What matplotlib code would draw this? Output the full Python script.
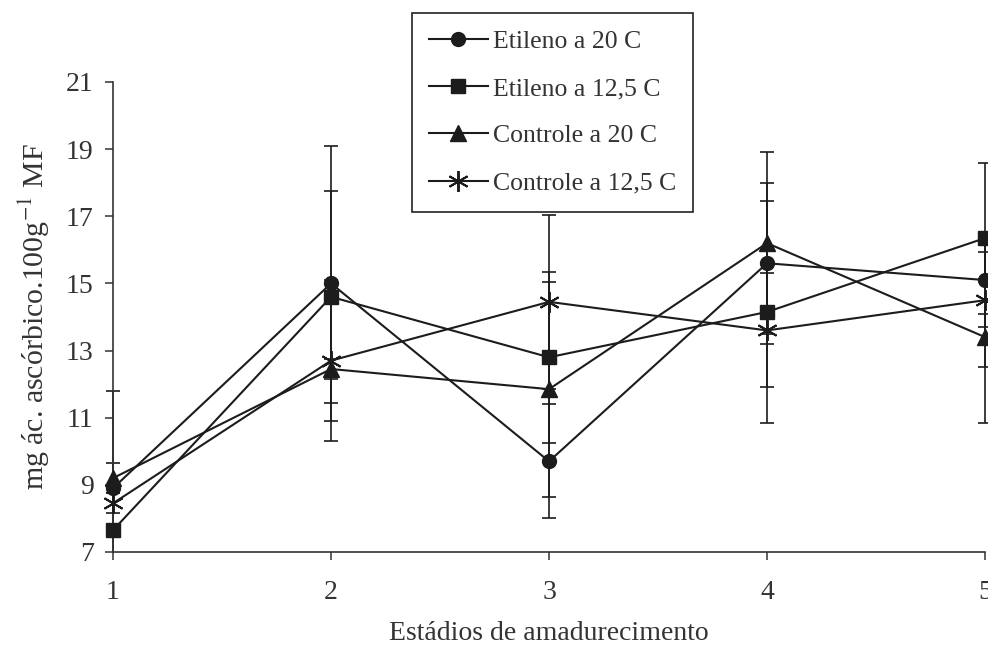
import matplotlib
matplotlib.use("Agg")
import matplotlib.pyplot as plt
from matplotlib.lines import Line2D
from matplotlib.patches import Rectangle

plt.rcParams['font.family'] = ['Liberation Serif', 'DejaVu Serif']
plt.rcParams['mathtext.fontset'] = 'stix'

stages = [1, 2, 3, 4, 5]
series_names = ["Etileno a 20 C", "Etileno a 12,5 C", "Controle a 20 C", "Controle a 12,5 C"]
etileno_20 = [8.9, 15.0, 9.7, 15.6, 15.1]
etileno_125 = [7.65, 14.6, 12.8, 14.15, 16.35]
controle_20 = [9.2, 12.45, 11.85, 16.2, 13.4]
controle_125 = [8.45, 12.7, 14.45, 13.6, 14.5]
err_etileno_20 = [2.9, 4.1, 1.7, 2.4, 1.4]
err_etileno_125 = [0.0, 3.15, 2.55, 3.3, 2.25]
err_controle_20 = [0.45, 0.3, 3.2, 2.7, 2.55]
err_controle_125 = [0.3, 2.4, 2.6, 1.7, 2.0]
yticks = [7, 9, 11, 13, 15, 17, 19, 21]

INK = '#1c1c1c'

fig = plt.figure(figsize=(9.88, 6.45), dpi=100)
ax = fig.add_axes([0.1144, 0.1442, 0.8826, 0.7287])

values = [etileno_20, etileno_125, controle_20, controle_125]
errors = [err_etileno_20, err_etileno_125, err_controle_20, err_controle_125]
markers = ['o', 's', '^', (6, 2, 0)]
msizes = [10, 10, 11, 15]

# clip error bars vertically at the x axis, but allow drawing on left/right edges
clip_rect = Rectangle((-0.05, 0.0), 1.1, 1.5, transform=ax.transAxes,
                      facecolor='none', edgecolor='none')
ax.add_patch(clip_rect)

for name, vals, errs, mk, ms in zip(series_names, values, errors, markers, msizes):
    eb = ax.errorbar(stages, vals, yerr=errs, color=INK, fmt='none',
                     elinewidth=1.2, capsize=4.8, capthick=1.2)
    for cap in eb.lines[1]:
        cap.set_clip_path(clip_rect)
    for bar in eb.lines[2]:
        bar.set_clip_path(clip_rect)
    ax.plot(stages, vals, color=INK, marker=mk, markersize=ms,
            markeredgewidth=1.4 if isinstance(mk, tuple) else 1.0,
            linewidth=1.5, clip_on=False, zorder=3)

ax.set_xlim(1, 5)
ax.set_ylim(7, 21)
ax.set_xticks(stages)
ax.set_yticks(yticks)
ax.spines['top'].set_visible(False)
ax.spines['right'].set_visible(False)
for s in ['left', 'bottom']:
    ax.spines[s].set_linewidth(1.2)
    ax.spines[s].set_color('#333333')
ax.tick_params(axis='both', labelsize=20, colors='#333333', length=6, width=1.1, direction='out', pad=8)
ax.tick_params(axis='x', pad=14)

ax.set_xlabel("Estádios de amadurecimento", fontsize=20, color='#333333', labelpad=12)
ax.set_ylabel(r"mg ác. ascórbico.100g$^{-1}$ MF", fontsize=21.5, color='#333333', labelpad=10)

leg_handles = [Line2D([], [], color=INK, marker=m, markersize=s, linewidth=1.5,
                      markeredgewidth=1.4 if isinstance(m, tuple) else 1.0)
               for m, s in zip(markers, msizes)]
leg = ax.legend(leg_handles, series_names, loc='upper left',
                bbox_to_anchor=(412 / 988, 1 - 13 / 645), bbox_transform=fig.transFigure,
                fontsize=18.5, frameon=True, fancybox=False, framealpha=1,
                edgecolor='#222222', handlelength=2.3, handletextpad=0.2,
                labelspacing=0.95, borderpad=0.65, borderaxespad=0)
leg.set_zorder(5)
leg.get_frame().set_linewidth(1.2)
for t in leg.get_texts():
    t.set_color('#333333')

fig.savefig("out.png", dpi=100, facecolor='white')
